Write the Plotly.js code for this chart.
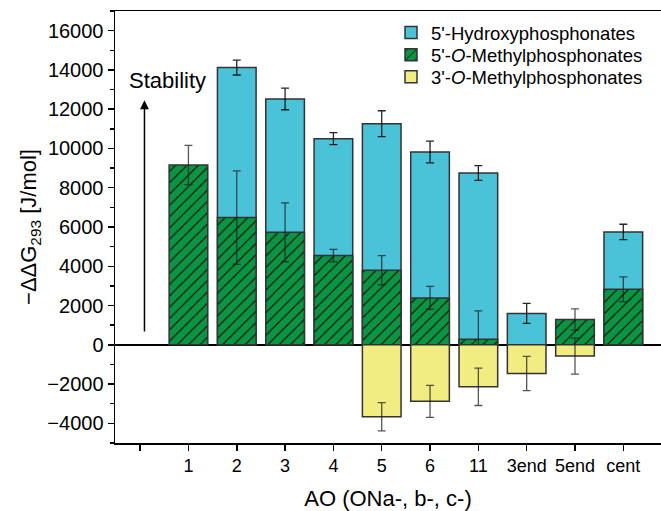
<!DOCTYPE html>
<html>
<head>
<meta charset="utf-8">
<script src="https://cdn.plot.ly/plotly-3.0.1.min.js"></script>
<style>html,body{margin:0;padding:0;background:#fff;}#chart{width:661px;height:511px;}</style>
</head>
<body>
<div id="chart"></div>
<script>
// Categories (first slot is an unlabeled, empty position)
var categories = ["", "1", "2", "3", "4", "5", "6", "11", "3end", "5end", "cent"];

// 5'-Hydroxyphosphonates
var hydroxyValues = [null, null, 14120, 12520, 10500, 11260, 9820, 8750, 1600, null, 5750];
var hydroxyErrors = [null, null, 380, 550, 310, 660, 550, 375, 510, null, 390];

// 5'-O-Methylphosphonates
var methyl5Values = [null, 9160, 6480, 5730, 4545, 3800, 2390, 280, null, 1290, 2830];
var methyl5Errors = [null, 1000, 2380, 1500, 320, 740, 590, 1450, null, 540, 630];

// 3'-O-Methylphosphonates
var methyl3Values = [null, null, null, null, null, -3660, -2880, -2140, -1460, -575, null];
var methyl3Errors = [null, null, null, null, null, 720, 810, 950, 875, 915, null];

var seriesNames = ["5'-Hydroxyphosphonates", "5'-<i>O</i>-Methylphosphonates", "3'-<i>O</i>-Methylphosphonates"];

var xPos = categories.map(function (c, i) { return i; });
var FONT = "Arial, 'Liberation Sans', sans-serif";

function errBar(arr, col) {
  return {type: "data", array: arr, visible: true, color: col, thickness: 1.3, width: 4};
}

var traces = [
  {
    type: "bar", name: seriesNames[0], x: xPos, y: hydroxyValues, width: 0.8, legend: "legend",
    marker: {color: "#4AC3D9", line: {color: "#333333", width: 1.5}},
    error_y: errBar(hydroxyErrors, "rgba(0,0,0,0.85)")
  },
  {
    type: "bar", name: seriesNames[1], x: xPos, y: methyl5Values, width: 0.8, legend: "legend2",
    marker: {
      color: "#0B9444", line: {color: "#333333", width: 1.5},
      pattern: {shape: "/", fgcolor: "#000000", bgcolor: "#0B9444", size: 8, solidity: 0.13}
    },
    error_y: errBar(methyl5Errors, "rgba(30,30,30,0.75)")
  },
  {
    type: "bar", name: seriesNames[2], x: xPos, y: methyl3Values, width: 0.8, legend: "legend3",
    marker: {color: "#F1ED82", line: {color: "#333333", width: 1.5}},
    error_y: errBar(methyl3Errors, "rgba(30,30,30,0.75)")
  }
];

function legendAt(yTop) {
  return {
    x: 0.5055, xanchor: "left", y: yTop, yanchor: "top",
    bgcolor: "rgba(0,0,0,0)", borderwidth: 0,
    font: {family: FONT, size: 18.5, color: "#000"}
  };
}

var layout = {
  width: 661, height: 511,
  margin: {l: 115, r: 0, t: 11, b: 68},
  paper_bgcolor: "#ffffff", plot_bgcolor: "#ffffff",
  barmode: "overlay",
  font: {family: FONT, color: "#000"},
  showlegend: true,
  legend: legendAt(0.993),
  legend2: legendAt(0.9417),
  legend3: legendAt(0.8907),
  xaxis: {
    range: [-0.52, 10.78],
    tickmode: "array", tickvals: xPos, ticktext: categories,
    ticks: "outside", ticklen: 6, tickwidth: 1.5, tickcolor: "#000",
    showline: true, linecolor: "#000", linewidth: 1.5, mirror: true,
    showgrid: false, zeroline: false,
    tickfont: {family: FONT, size: 18},
    title: {text: "AO (ONa-, b-, c-)", font: {family: FONT, size: 22}, standoff: 15}
  },
  yaxis: {
    range: [-5000, 17000],
    tickmode: "linear", tick0: 0, dtick: 2000,
    ticks: "outside", ticklen: 6, tickwidth: 1.5, tickcolor: "#000",
    minor: {dtick: 1000, ticks: "outside", ticklen: 4, tickwidth: 1.5, tickcolor: "#000"},
    showline: true, linecolor: "#000", linewidth: 1.5, mirror: false,
    showgrid: false,
    zeroline: true, zerolinecolor: "#000", zerolinewidth: 1.5,
    tickformat: "d",
    tickfont: {family: FONT, size: 20},
    title: {text: "\u2212\u0394\u0394G<sub>293</sub> [J/mol]", font: {family: FONT, size: 22}, standoff: 4}
  },
  annotations: [
    {
      x: 0.09, y: 12450, ax: 0.09, ay: 600, axref: "x", ayref: "y", xref: "x", yref: "y",
      text: "", showarrow: true, arrowhead: 2, arrowsize: 1.2, arrowwidth: 1.5, arrowcolor: "#000"
    },
    {
      x: -0.27, y: 13450, xref: "x", yref: "y", xanchor: "left", yanchor: "middle",
      text: "Stability", showarrow: false, font: {family: FONT, size: 22, color: "#000"}
    }
  ]
};

Plotly.newPlot("chart", traces, layout, {displayModeBar: false, staticPlot: true});
</script>
</body>
</html>
